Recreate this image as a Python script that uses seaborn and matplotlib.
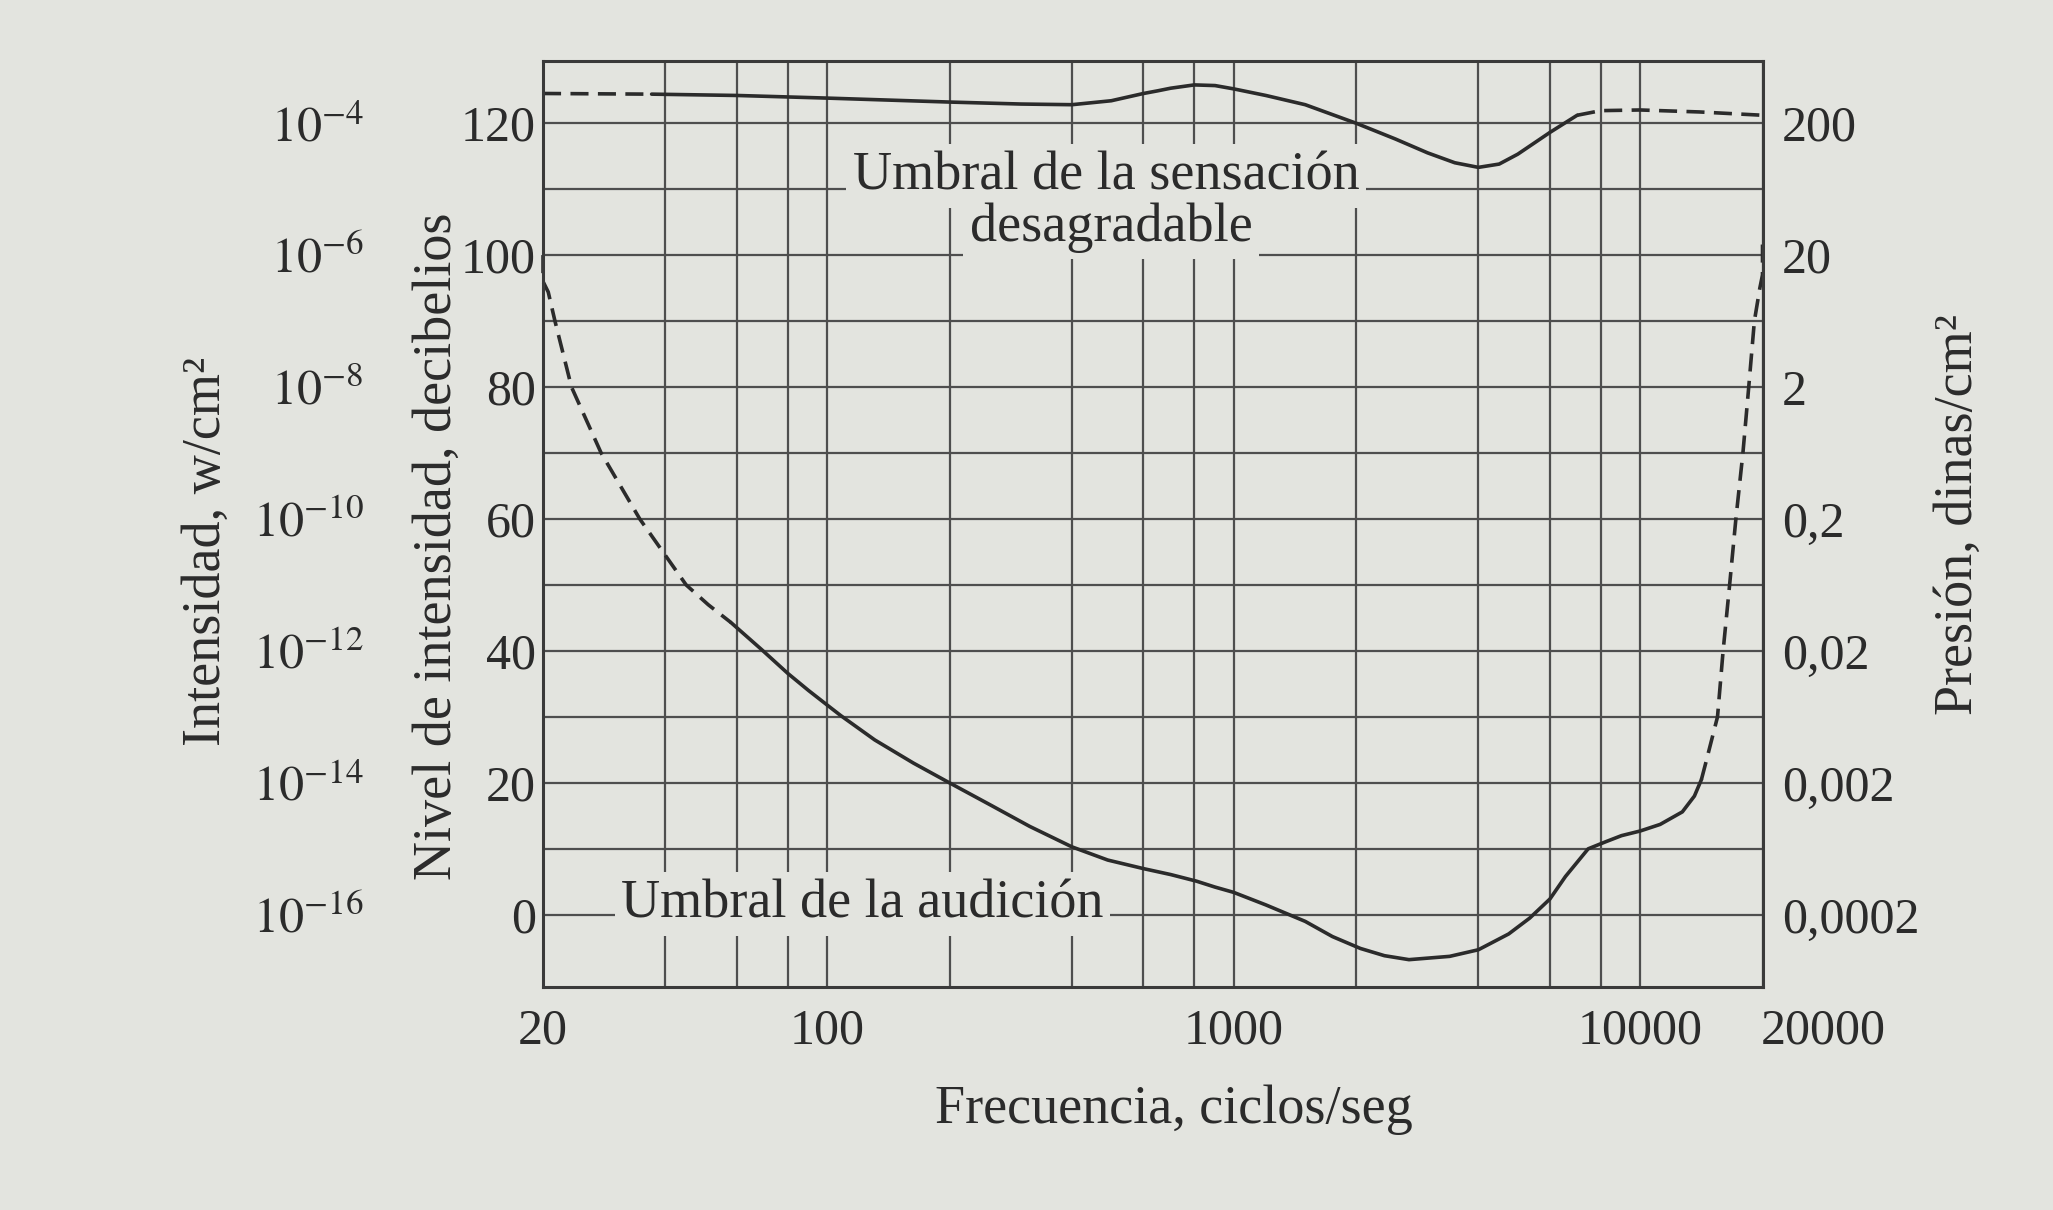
import matplotlib
matplotlib.use('Agg')
import matplotlib.pyplot as plt
from matplotlib.ticker import FixedLocator, NullFormatter
from matplotlib.transforms import ScaledTranslation
import seaborn as sns

# === datos ===
# Umbral de la sensación desagradable (dB)
sup_izq_f = [20, 37]
sup_izq_db = [124.5, 124.4]
sup_f = [37, 60, 100, 200, 300, 400, 500, 600, 650, 700, 800, 900, 1000, 1200,
         1500, 2000, 2500, 3000, 3500, 4000, 4500, 5000, 6000, 7000]
sup_db = [124.4, 124.2, 123.8, 123.2, 122.9, 122.8, 123.4, 124.5, 124.9, 125.3,
          125.8, 125.7, 125.2, 124.2, 122.8, 120.0, 117.6, 115.5, 114.0, 113.3,
          113.8, 115.3, 118.6, 121.2]
sup_der_f = [7000, 8000, 10000, 14000, 20000]
sup_der_db = [121.2, 121.9, 122.0, 121.7, 121.2]

# Umbral de la audición (dB)
inf_izq_f = [20, 20, 20.6, 21.4, 23.5, 27.8, 34.6, 45, 51, 58]
inf_izq_db = [100, 96, 94.4, 90, 80, 70, 60, 50, 47, 44.3]
inf_f = [58, 69, 80, 90, 100, 108, 131, 163, 200, 253, 315, 400, 490, 600, 700,
         810, 900, 1000, 1200, 1500, 1750, 2050, 2350, 2700, 3400, 4000, 4750,
         5350, 6000, 6550, 7450, 8250, 9000, 10000, 11200, 12700, 13600, 14150]
inf_db = [44.3, 40.2, 36.6, 34.0, 31.8, 30.2, 26.5, 23.0, 20, 16.6, 13.4, 10.3,
          8.3, 7.0, 6.1, 5.1, 4.2, 3.4, 1.5, -1, -3.3, -5.1, -6.2, -6.8, -6.3,
          -5.3, -2.9, -0.5, 2.4, 5.8, 10, 11.1, 12, 12.7, 13.7, 15.6, 18, 20.5]
inf_der_f = [14150, 14500, 15500, 16000, 16600, 17200, 17900, 18500, 19100,
             19700, 20000, 20000]
inf_der_db = [20.5, 23, 30, 40, 50, 60, 70, 80, 90, 95, 97, 103]

# === ejes ===
frec_ticks = [20, 100, 1000, 10000, 20000]
frec_labels = ['20', '100', '1000', '10000', '20000']
frec_grid = [20, 40, 60, 80, 100, 200, 400, 600, 800, 1000, 2000, 4000, 6000,
             8000, 10000, 20000]
db_ticks = [0, 20, 40, 60, 80, 100, 120]
db_labels = ['0', '20', '40', '60', '80', '100', '120']
db_grid = [0, 10, 20, 30, 40, 50, 60, 70, 80, 90, 100, 110, 120]
intensidad_labels = [r'$10^{-16}$', r'$10^{-14}$', r'$10^{-12}$', r'$10^{-10}$',
                     r'$10^{-8}$', r'$10^{-6}$', r'$10^{-4}$']
presion_labels = ['0,0002', '0,002', '0,02', '0,2', '2', '20', '200']

fondo = '#e3e4df'
tinta = '#2b2b2b'

sns.set_style('ticks')
plt.rcParams['font.family'] = ['Liberation Serif', 'DejaVu Serif']
plt.rcParams['mathtext.fontset'] = 'stix'
plt.rcParams['text.color'] = tinta
plt.rcParams['axes.labelcolor'] = tinta
plt.rcParams['xtick.color'] = tinta
plt.rcParams['ytick.color'] = tinta

fig = plt.figure(figsize=(20.53, 12.10), dpi=100, facecolor=fondo)
ax = fig.add_axes([0.2645, 0.184, 0.594, 0.766])
ax.set_facecolor(fondo)

linea = dict(color=tinta, linewidth=2.6, estimator=None, sort=False)
guion = (0, (5, 2.6))

sns.lineplot(x=sup_izq_f, y=sup_izq_db, ax=ax, linestyle=guion, **linea)
sns.lineplot(x=sup_f, y=sup_db, ax=ax, **linea)
sns.lineplot(x=sup_der_f, y=sup_der_db, ax=ax, linestyle=guion, **linea)
sns.lineplot(x=inf_izq_f, y=inf_izq_db, ax=ax, linestyle=guion, clip_on=False, **linea)
sns.lineplot(x=inf_f, y=inf_db, ax=ax, **linea)
sns.lineplot(x=inf_der_f, y=inf_der_db, ax=ax, linestyle=guion, clip_on=False, **linea)

ax.set_xscale('log')
ax.set_xlim(20, 20000)
ax.set_ylim(-11, 129.5)

ax.xaxis.set_major_locator(FixedLocator(frec_ticks))
ax.set_xticklabels(frec_labels)
ax.xaxis.set_minor_locator(FixedLocator(frec_grid))
ax.xaxis.set_minor_formatter(NullFormatter())
ax.yaxis.set_major_locator(FixedLocator(db_ticks))
ax.set_yticklabels(db_labels)
ax.yaxis.set_minor_locator(FixedLocator(db_grid))
ax.tick_params(which='both', length=0, labelsize=36)
ax.tick_params(axis='x', pad=15)
ax.tick_params(axis='y', pad=5)
ax.grid(which='both', color='#4e4e4e', linewidth=1.6)
ax.set_axisbelow(True)
for s in ax.spines.values():
    s.set_color('#3a3a3a')
    s.set_linewidth(2.2)

# el rótulo 20000 va corrido a la derecha del marco
ultimo = ax.get_xticklabels()[-1]
ultimo.set_transform(ultimo.get_transform() + ScaledTranslation(44 / 72, 0, fig.dpi_scale_trans))

ax.set_xlabel('Frecuencia, ciclos/seg', fontsize=39)
ax.xaxis.set_label_coords(0.517, -0.105)
ax.set_ylabel('Nivel de intensidad, decibelios', fontsize=39)
ax.yaxis.set_label_coords(-0.066, 0.476)

# escala exterior: intensidad
ext = ax.twinx()
ext.set_ylim(ax.get_ylim())
ext.yaxis.tick_left()
ext.yaxis.set_label_position('left')
ext.spines['left'].set_position(('outward', 129))
for s in ext.spines.values():
    s.set_visible(False)
ext.yaxis.set_major_locator(FixedLocator(db_ticks))
ext.set_yticklabels(intensidad_labels)
ext.tick_params(length=0, pad=0, labelsize=36)
ext.set_ylabel('Intensidad, w/cm²', fontsize=39)
ext.yaxis.set_label_coords(-0.255, 0.47)

# escala derecha: presión
der = ax.twinx()
der.set_ylim(ax.get_ylim())
for s in der.spines.values():
    s.set_visible(False)
der.yaxis.set_major_locator(FixedLocator(db_ticks))
der.set_yticklabels(presion_labels)
der.tick_params(length=0, pad=14, labelsize=36)
der.set_ylabel('Presión, dinas/cm²', fontsize=39)
der.yaxis.set_label_coords(1.14, 0.51)

caja = dict(boxstyle='square,pad=0.12', facecolor=fondo, edgecolor='none')
ax.text(485, 112, 'Umbral de la sensación', fontsize=39, ha='center', va='center', bbox=caja)
ax.text(500, 104.2, 'desagradable', fontsize=39, ha='center', va='center', bbox=caja)
ax.text(122, 1.6, 'Umbral de la audición', fontsize=39, ha='center', va='center', bbox=caja)

plt.savefig('out.png', dpi=100, facecolor=fondo)
